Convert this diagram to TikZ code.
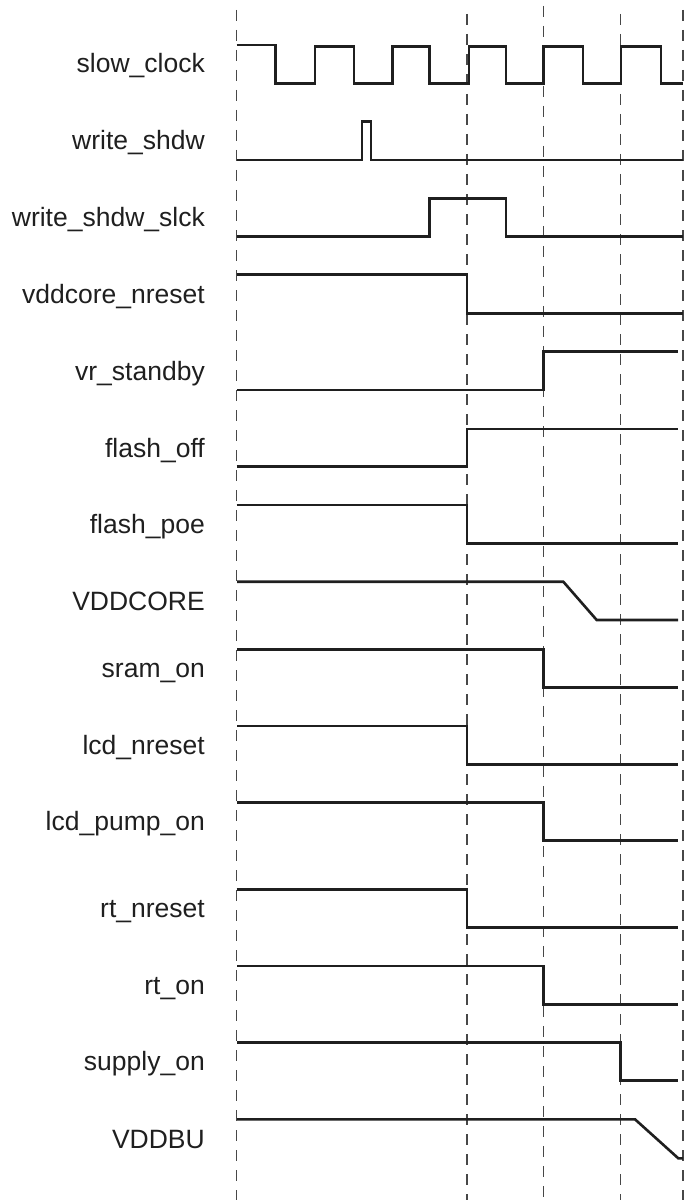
\documentclass[tikz,border=0pt]{standalone}
\usepackage{fontspec}
\setmainfont{Liberation Sans}
\begin{document}
\begin{tikzpicture}[x=1pt,y=-1pt,
  sig/.style={line width=2.6pt,color=black!88,line join=miter},
  guide/.style={line width=1.5pt,color=black!72,dash pattern=on 11pt off 9pt},
  lbl/.style={anchor=base east,inner sep=0pt,font=\fontsize{26.5}{31}\selectfont,text=black!88}]
\useasboundingbox (0,0) rectangle (686,1201);
% guide lines
\foreach \gx/\gy in {236.5/10, 467/14, 543.5/6, 620.3/14, 683/10}
  \draw[guide] (\gx,\gy) -- (\gx,1200);
% labels
\node[lbl] (l0)  at (205,73)    {slow\_clock};
\node[lbl] (l1)  at (205,149.5) {write\_shdw};
\node[lbl] (l2)  at (205,226.5) {write\_shdw\_slck};
\node[lbl] (l3)  at (205,303)   {vddcore\_nreset};
\node[lbl] (l4)  at (205,380)   {vr\_standby};
\node[lbl] (l5)  at (205,457)   {flash\_off};
\node[lbl] (l6)  at (205,533)   {flash\_poe};
\node[lbl] (l7)  at (205,610)   {VDDCORE};
\node[lbl] (l8)  at (205,677.5) {sram\_on};
\node[lbl] (l9)  at (205,754)   {lcd\_nreset};
\node[lbl] (l10) at (205,830.7) {lcd\_pump\_on};
\node[lbl] (l11) at (205,917.5) {rt\_nreset};
\node[lbl] (l12) at (205,994)   {rt\_on};
\node[lbl] (l13) at (205,1070.5){supply\_on};
\node[lbl] (l14) at (205,1148)  {VDDBU};
% slow_clock
\draw[sig] (236.5,45) -- (275.5,45) -- (275.5,83.3) -- (315,83.3) -- (315,46.5) -- (354,46.5) -- (354,83.3)
  -- (392.5,83.3) -- (392.5,46.5) -- (429.5,46.5) -- (429.5,83.3) -- (469,83.3) -- (469,46.5)
  -- (506,46.5) -- (506,83.3) -- (543.7,83.3) -- (543.7,46.5) -- (583,46.5) -- (583,83.3)
  -- (621,83.3) -- (621,46.5) -- (661,46.5) -- (661,83.3) -- (683,83.3);
% write_shdw
\draw[sig] (236.5,160) -- (362,160) -- (362,121.5) -- (371,121.5) -- (371,160) -- (683,160);
% write_shdw_slck
\draw[sig] (236.5,236.7) -- (429.3,236.7) -- (429.3,198.3) -- (506,198.3) -- (506,236.7) -- (683,236.7);
% vddcore_nreset
\draw[sig] (236.5,274.3) -- (467,274.3) -- (467,313.3) -- (683,313.3);
% vr_standby
\draw[sig] (237,390) -- (543.7,390) -- (543.7,351.7) -- (678,351.7);
% flash_off
\draw[sig] (236.5,466.7) -- (467,466.7) -- (467,429) -- (678,429);
% flash_poe
\draw[sig] (236.5,505) -- (467,505) -- (467,543.3) -- (678,543.3);
% VDDCORE
\draw[sig] (237,581.7) -- (563.3,581.7) -- (596.7,620) -- (678,620);
% sram_on
\draw[sig] (237,649.3) -- (543.7,649.3) -- (543.7,687.7) -- (678,687.7);
% lcd_nreset
\draw[sig] (237,726) -- (467,726) -- (467,764.3) -- (678,764.3);
% lcd_pump_on
\draw[sig] (236.5,802.7) -- (543.7,802.7) -- (543.7,840.7) -- (678,840.7);
% rt_nreset
\draw[sig] (236.5,889.3) -- (467,889.3) -- (467,927.7) -- (678,927.7);
% rt_on
\draw[sig] (237,966) -- (543.7,966) -- (543.7,1004.3) -- (678,1004.3);
% supply_on
\draw[sig] (237,1042.3) -- (620.7,1042.3) -- (620.7,1080.7) -- (678,1080.7);
% VDDBU
\draw[sig] (237,1119.3) -- (635,1119.3) -- (678.3,1158.3) -- (683,1158.3);
\end{tikzpicture}
\end{document}
